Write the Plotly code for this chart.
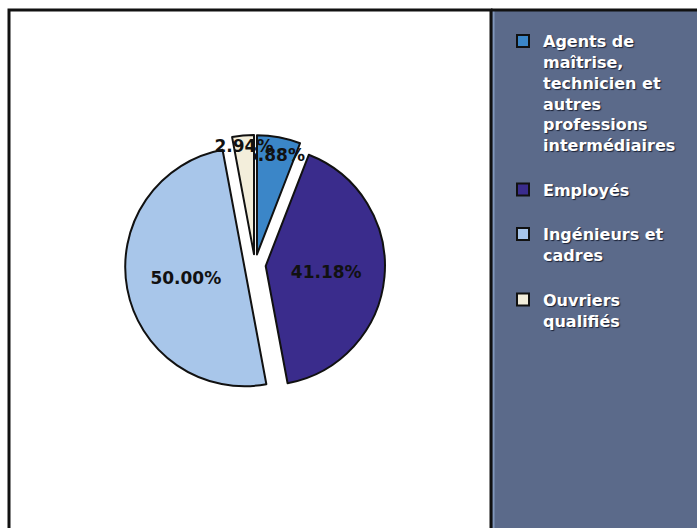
import plotly.graph_objects as go

categories = [
    "Agents de<br>maîtrise,<br>technicien et<br>autres<br>professions<br>intermédiaires",
    "Employés",
    "Ingénieurs et<br>cadres",
    "Ouvriers<br>qualifiés",
]
values = [2, 14, 17, 1]
colors = ["#3b86c8", "#3a2c8c", "#a8c6ea", "#f3eedb"]
pulls = [0.09, 0.09, 0.09, 0.09]

W, H = 697, 528

# legend entries get a trailing blank line to reproduce the spacing between items
legend_names = [c + "<br> " for c in categories]

fig = go.Figure(go.Pie(
    labels=legend_names,
    values=values,
    sort=False,
    direction="clockwise",
    rotation=0,
    pull=pulls,
    marker=dict(colors=colors, line=dict(color="#111111", width=2)),
    texttemplate="%{percent:.2%}",
    textposition="inside",
    insidetextorientation="horizontal",
    textfont=dict(family="DejaVu Sans", size=17, color="#111111", weight="bold"),
    domain=dict(x=[125 / W, 385 / W], y=[128 / H, 398 / H]),
    hoverinfo="label+percent",
))

fig.update_layout(
    width=W, height=H,
    margin=dict(l=0, r=0, t=0, b=0),
    paper_bgcolor="white",
    uniformtext=dict(minsize=17, mode="show"),
    showlegend=True,
    legend=dict(
        x=503 / W, y=1 - 24 / H, xanchor="left", yanchor="top",
        bgcolor="rgba(0,0,0,0)",
        valign="top",
        font=dict(family="DejaVu Sans", size=16, color="white", weight="bold",
                  shadow="1px 1px 1px #1b2236"),
        tracegroupgap=0,
    ),
    shapes=[
        dict(type="rect", xref="paper", yref="paper",
             x0=491 / W, x1=1.0, y0=0, y1=1 - 10 / H,
             fillcolor="#5b6a8a", line=dict(width=0), layer="below"),
        dict(type="line", xref="paper", yref="paper",
             x0=493.5 / W, x1=493.5 / W, y0=0, y1=1 - 10 / H,
             line=dict(color="#8197bb", width=2)),
        dict(type="rect", xref="paper", yref="paper",
             x0=9 / W, x1=491 / W, y0=-0.01, y1=1 - 10 / H,
             fillcolor="rgba(0,0,0,0)", line=dict(color="#111111", width=3)),
        dict(type="line", xref="paper", yref="paper",
             x0=491 / W, x1=1.0, y0=1 - 10 / H, y1=1 - 10 / H,
             line=dict(color="#111111", width=3)),
    ],
)

fig.write_html("out.html")
